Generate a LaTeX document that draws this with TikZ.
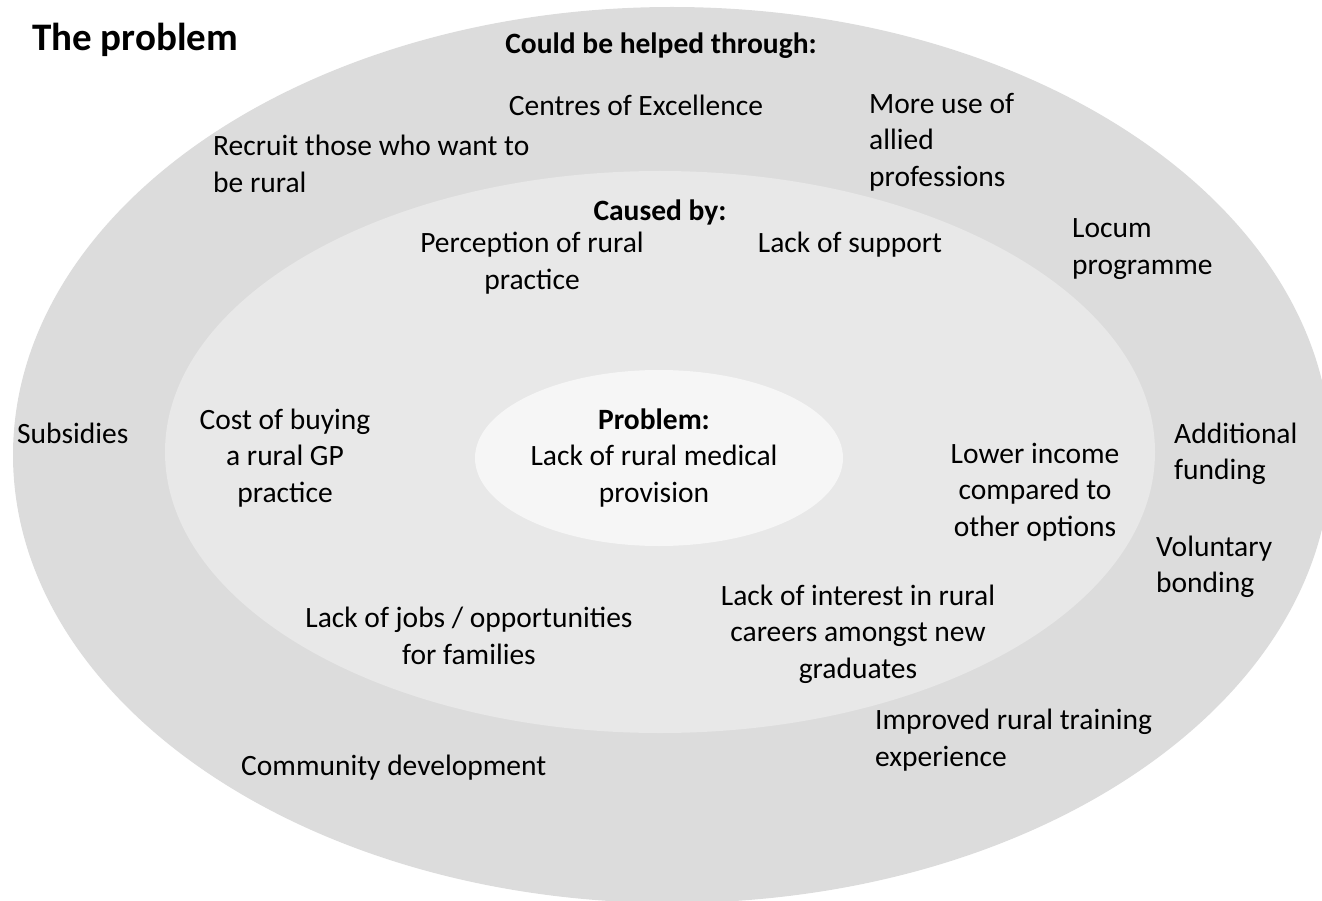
\documentclass[tikz,border=0pt]{standalone}
\usepackage{fontspec}
\setmainfont{Carlito}
\begin{document}
\begin{tikzpicture}[x=1pt,y=-1pt,
  txt/.style={inner sep=0pt,font=\fontsize{29.5}{36.4}\selectfont},
  ltxt/.style={txt,align=left,anchor=west},
  ctxt/.style={txt,align=center},
  head/.style={inner sep=0pt,font=\bfseries\fontsize{29.5}{36.4}\selectfont}]
\definecolor{ringout}{HTML}{DCDCDC}
\definecolor{ringmid}{HTML}{E8E8E8}
\definecolor{ringin}{HTML}{F6F6F6}
\useasboundingbox (0,0) rectangle (1322,901);
\begin{scope}
  \clip (0,0) rectangle (1322,901);
  % three nested zones
  \fill[ringout] (672,455) ellipse [x radius=659, y radius=448];
  \fill[ringmid] (660,452) ellipse [x radius=495, y radius=281];
  \fill[ringin]  (659,458) ellipse [x radius=184, y radius=88];
\end{scope}

% title
\node[inner sep=0pt,anchor=west,font=\bfseries\fontsize{39}{47}\selectfont] (title) at (32,40) {The problem};

% outer zone: solutions
\node[head] (helped) at (661,46) {Could be helped through:};
\node[ctxt] (coe) at (636,105) {Centres of Excellence};
\node[ltxt] (allied) at (869,142) {More use of\\allied\\professions};
\node[ltxt] (recruit) at (213,164) {Recruit those who want to\\be rural};
\node[ltxt] (locum) at (1072,249) {Locum\\programme};
\node[ltxt] (subs) at (17,433) {Subsidies};
\node[ltxt] (fund) at (1174,454) {Additional\\funding};
\node[ltxt] (bond) at (1156,567) {Voluntary\\bonding};
\node[ltxt] (train) at (875,740) {Improved rural training\\experience};
\node[ltxt] (comm) at (241,768) {Community development};

% middle zone: causes
\node[head] (caused) at (660,212) {Caused by:};
\node[ctxt] (percep) at (532,263) {Perception of rural\\practice};
\node[ctxt] (support) at (850,245) {Lack of support};
\node[ctxt] (cost) at (285,458) {Cost of buying\\a rural GP\\practice};
\node[ctxt] (income) at (1035,492) {Lower income\\compared to\\other options};
\node[ctxt] (interest) at (858,634) {Lack of interest in rural\\careers amongst new\\graduates};
\node[ctxt] (jobs) at (469,636) {Lack of jobs / opportunities\\for families};

% inner zone: the problem
\node[ctxt] (prob) at (654,458) {\textbf{Problem:}\\Lack of rural medical\\provision};
\end{tikzpicture}
\end{document}
